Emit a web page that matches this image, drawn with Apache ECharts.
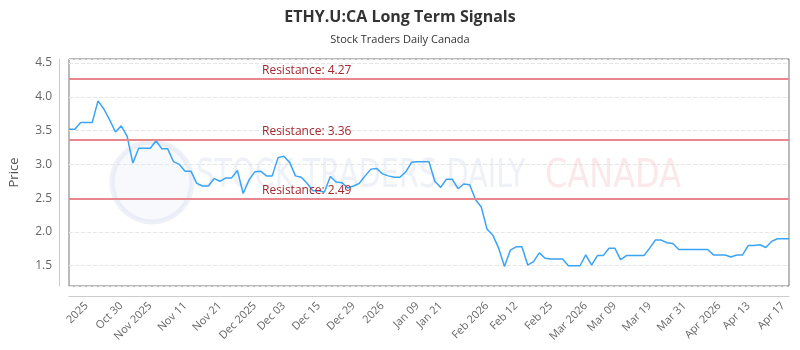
<!DOCTYPE html>
<html lang="en">
<head>
    <meta charset="UTF-8">
    <title>ETHY.U:CA Long Term Signals</title>
    <script src="https://cdn.jsdelivr.net/npm/echarts@6/dist/echarts.min.js"></script>
    <style>
        html, body { margin: 0; padding: 0; background: #fff; }
        #main { width: 800px; height: 350px; }
    </style>
</head>
<body>
    <div id="main"></div>
    <script type="text/javascript">
        // price series, one value per point
        var prices = [
            3.52, 3.52, 3.62, 3.62, 3.62, 3.94, 3.82, 3.66, 3.48, 3.57,
            3.42, 3.02, 3.24, 3.24, 3.24, 3.35, 3.23, 3.23, 3.04, 3.00,
            2.90, 2.90, 2.72, 2.68, 2.68, 2.79, 2.75, 2.80, 2.80, 2.91,
            2.57, 2.77, 2.89, 2.90, 2.83, 2.83, 3.10, 3.12, 3.03, 2.83,
            2.81, 2.72, 2.61, 2.61, 2.59, 2.82, 2.74, 2.73, 2.65, 2.68,
            2.72, 2.83, 2.93, 2.94, 2.86, 2.83, 2.81, 2.81, 2.89, 3.03,
            3.04, 3.04, 3.04, 2.75, 2.66, 2.78, 2.78, 2.64, 2.71, 2.70,
            2.48, 2.37, 2.04, 1.95, 1.76, 1.49, 1.73, 1.78, 1.78, 1.51,
            1.56, 1.69, 1.61, 1.60, 1.60, 1.60, 1.50, 1.50, 1.50, 1.66,
            1.51, 1.65, 1.65, 1.76, 1.76, 1.59, 1.65, 1.65, 1.65, 1.65,
            1.76, 1.88, 1.88, 1.84, 1.83, 1.74, 1.74, 1.74, 1.74, 1.74,
            1.74, 1.66, 1.66, 1.66, 1.63, 1.66, 1.66, 1.80, 1.80, 1.81,
            1.77, 1.86, 1.90, 1.90, 1.90
        ];

        // x tick labels and the point index each one sits on
        var tickLabels = ['2025', 'Oct 30', 'Nov 2025', 'Nov 11', 'Nov 21', 'Dec 2025', 'Dec 03',
            'Dec 15', 'Dec 29', '2026', 'Jan 09', 'Jan 21', 'Feb 2026', 'Feb 12', 'Feb 25',
            'Mar 2026', 'Mar 09', 'Mar 19', 'Mar 31', 'Apr 2026', 'Apr 13', 'Apr 17'];
        var tickIdx = [3, 9, 14, 20, 26, 32, 37, 43, 49, 54, 60, 64, 72, 77, 83, 89, 94, 100, 106, 112, 117, 123];

        var resistance = [4.27, 3.36, 2.49];

        var categories = prices.map(function (v, i) {
            var k = tickIdx.indexOf(i);
            return k >= 0 ? tickLabels[k] : '';
        });

        var myChart = echarts.init(document.getElementById('main'));
        var option = {
            animation: false,
            textStyle: { fontFamily: 'Open Sans' },
            title: {
                text: 'ETHY.U:CA Long Term Signals',
                subtext: 'Stock Traders Daily Canada',
                left: 'center',
                top: 4,
                itemGap: 9,
                textStyle: { fontFamily: 'Open Sans', fontSize: 16, fontWeight: 'bold', color: '#333' },
                subtextStyle: { fontFamily: 'Open Sans', fontSize: 11, color: '#333' }
            },
            grid: {
                left: 64, right: 11, top: 59, bottom: 64,
                show: true, borderColor: '#777', borderWidth: 1, backgroundColor: '#fff'
            },
            // faint watermark behind the line
            graphic: [
                {
                    type: 'circle', z: 1, silent: true,
                    shape: { cx: 152, cy: 182, r: 40 },
                    style: { fill: 'rgba(225,232,242,0.25)', stroke: 'rgba(205,215,232,0.35)', lineWidth: 5 }
                },
                {
                    type: 'text', z: 1, silent: true, left: 196, top: 158, scaleY: 1.2,
                    style: { text: 'STOCK TRADERS DAILY', fill: 'rgba(205,215,232,0.35)', font: '32px "DejaVu Sans Condensed"' }
                },
                {
                    type: 'text', z: 1, silent: true, left: 545, top: 158, scaleY: 1.2,
                    style: { text: 'CANADA', fill: 'rgba(242,190,195,0.35)', font: '32px "DejaVu Sans"' }
                }
            ],
            xAxis: {
                type: 'category',
                data: categories,
                boundaryGap: false,
                offset: 10,
                axisLine: { lineStyle: { color: '#ccc' } },
                axisTick: { show: false },
                splitLine: { show: false },
                axisLabel: {
                    rotate: 45,
                    margin: 8,
                    fontSize: 11,
                    color: '#666',
                    interval: function (i) { return tickIdx.indexOf(i) >= 0; }
                }
            },
            yAxis: {
                type: 'value',
                min: 1.2,
                max: 4.56,
                splitNumber: 6,
                offset: 10,
                name: 'Price',
                nameLocation: 'middle',
                nameRotate: 90,
                nameGap: 38,
                nameTextStyle: { fontSize: 13, color: '#555' },
                axisLine: { show: true, lineStyle: { color: '#ccc' } },
                axisTick: { show: false },
                axisLabel: {
                    margin: 7, fontSize: 12, color: '#666',
                    showMinLabel: false, showMaxLabel: false,
                    formatter: function (v) { return v.toFixed(1); }
                },
                splitLine: { lineStyle: { color: '#e6e6e6', type: 'dashed' } }
            },
            series: [{
                type: 'line',
                data: prices,
                symbol: 'none',
                z: 3,
                lineStyle: { color: '#3ba4f5', width: 1.5 },
                markLine: {
                    silent: true,
                    symbol: 'none',
                    lineStyle: { color: '#e8878e', width: 2, type: 'solid' },
                    label: {
                        position: 'insideStartTop',
                        padding: [0, 0, 0, 191],
                        distance: 2,
                        fontSize: 12,
                        color: '#a3282f',
                        formatter: function (p) { return 'Resistance: ' + p.value.toFixed(2); }
                    },
                    data: resistance.map(function (r) { return { yAxis: r }; })
                }
            }]
        };
        myChart.setOption(option);
    </script>
</body>
</html>
